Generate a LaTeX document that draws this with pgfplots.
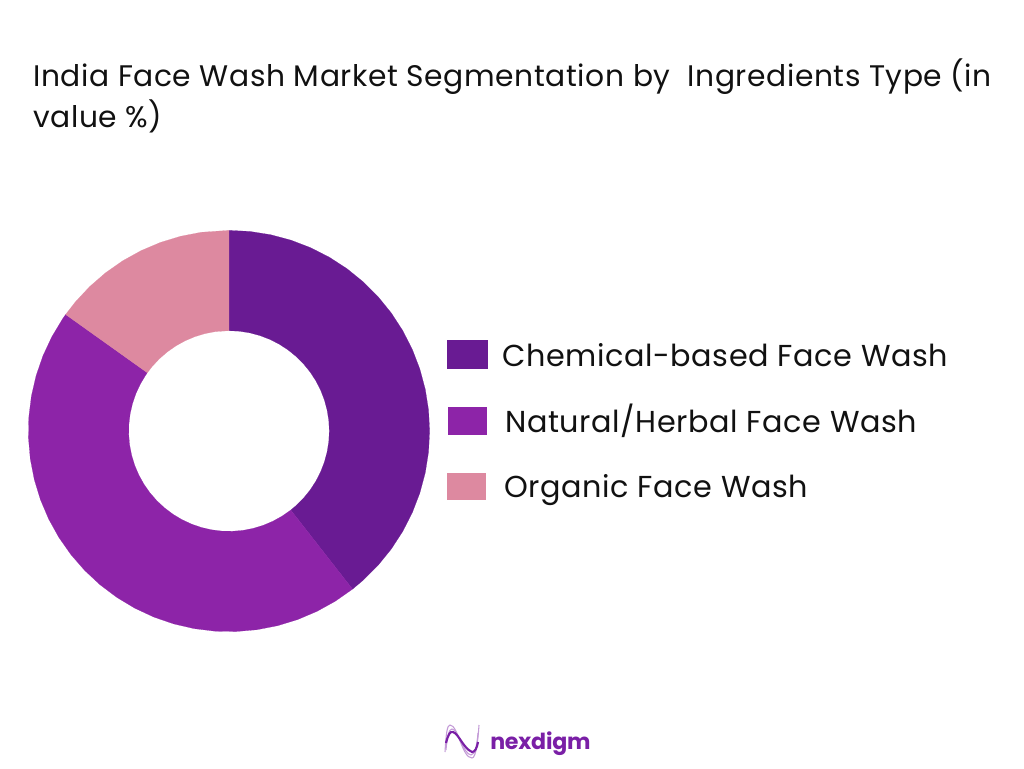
\documentclass[border=0pt]{standalone}
\usepackage{fontspec}
\usepackage{pgfplots}
\pgfplotsset{compat=1.18}
\usepgfplotslibrary{polar}
\setmainfont{Poppins}
\newfontfamily\titlef[LetterSpace=2.0]{Poppins}
\newfontfamily\legf[LetterSpace=2.0]{Poppins}
\newfontfamily\logof[LetterSpace=-1.0]{Poppins Bold}
\definecolor{sliceA}{HTML}{691B93}
\definecolor{sliceB}{HTML}{8D24A8}
\definecolor{sliceC}{HTML}{DD89A0}
\definecolor{ink}{HTML}{111111}
\definecolor{logop}{HTML}{7A1FA6}
\begin{document}
\begin{tikzpicture}[x=0.75pt,y=-0.75pt]
\useasboundingbox (0,0) rectangle (1024,768);
\fill[white] (0,0) rectangle (1024,768);
\begin{polaraxis}[
  at={(229*0.75pt,-431*0.75pt)}, anchor=center,
  scale only axis, width=301pt, height=301pt,
  xmin=0, xmax=360, ymin=0, ymax=200,
  hide axis, clip=false]
% chemical-based: about 39.5 % of the ring
\addplot[draw=sliceA, line width=0.1pt, fill=sliceA] coordinates {
(90,200)(84,200)(78,200)(72,200)(66,200)(60,200)(54,200)(48,200)(42,200)(36,200)(30,200)(24,200)(18,200)(12,200)(6,200)(0,200)(-6,200)(-12,200)(-18,200)(-24,200)(-30,200)(-36,200)(-42,200)(-48,200)(-52,200)
(-52,100)(-48,100)(-42,100)(-36,100)(-30,100)(-24,100)(-18,100)(-12,100)(-6,100)(0,100)(6,100)(12,100)(18,100)(24,100)(30,100)(36,100)(42,100)(48,100)(54,100)(60,100)(66,100)(72,100)(78,100)(84,100)(90,100)
} --cycle;
% natural/herbal: about 45.4 %
\addplot[draw=sliceB, line width=0.1pt, fill=sliceB] coordinates {
(-52,200)(-58,200)(-64,200)(-70,200)(-76,200)(-82,200)(-88,200)(-94,200)(-100,200)(-106,200)(-112,200)(-118,200)(-124,200)(-130,200)(-136,200)(-142,200)(-148,200)(-154,200)(-160,200)(-166,200)(-172,200)(-178,200)(-184,200)(-190,200)(-196,200)(-202,200)(-208,200)(-214,200)(-215.5,200)
(-215.5,100)(-214,100)(-208,100)(-202,100)(-196,100)(-190,100)(-184,100)(-178,100)(-172,100)(-166,100)(-160,100)(-154,100)(-148,100)(-142,100)(-136,100)(-130,100)(-124,100)(-118,100)(-112,100)(-106,100)(-100,100)(-94,100)(-88,100)(-82,100)(-76,100)(-70,100)(-64,100)(-58,100)(-52,100)
} --cycle;
% organic: about 15.1 %
\addplot[draw=sliceC, line width=0.1pt, fill=sliceC] coordinates {
(-215.5,200)(-220,200)(-226,200)(-232,200)(-238,200)(-244,200)(-250,200)(-256,200)(-262,200)(-270,200)
(-270,100)(-262,100)(-256,100)(-250,100)(-244,100)(-238,100)(-232,100)(-226,100)(-220,100)(-215.5,100)
} --cycle;
\end{polaraxis}
% title
\node[anchor=base west,inner sep=0pt,text=ink,font=\titlef\fontsize{22.3pt}{26pt}\selectfont] at (33,86) {India Face Wash Market Segmentation by \ Ingredients Type (in};
\node[anchor=base west,inner sep=0pt,text=ink,font=\titlef\fontsize{22.3pt}{26pt}\selectfont] at (33,127) {value \%)};
% legend
\fill[sliceA] (447,340) rectangle (488,369);
\fill[sliceB] (448,407) rectangle (487,435);
\fill[sliceC] (447,473) rectangle (486,500);
\node[anchor=base west,inner sep=0pt,text=ink,font=\legf\fontsize{22.7pt}{26pt}\selectfont] at (502,366) {Chemical-based Face Wash};
\node[anchor=base west,inner sep=0pt,text=ink,font=\legf\fontsize{22.7pt}{26pt}\selectfont] at (505,432) {Natural/Herbal Face Wash};
\node[anchor=base west,inner sep=0pt,text=ink,font=\legf\fontsize{22.7pt}{26pt}\selectfont] at (504,497) {Organic Face Wash};
% logo
\draw[logop!45,line width=0.8pt] (445,752) .. controls (446,735) and (447,725) .. (450,725) .. controls (458,725) and (462,758) .. (472,758) .. controls (476,758) and (478,740) .. (479,725);
\draw[logop!45,line width=0.8pt] (446,750) .. controls (447,737) and (449,729) .. (452,729) .. controls (458,729) and (463,754) .. (471,755) .. controls (475,755) and (477,745) .. (478,733);
\draw[logop,line width=1.6pt] (446,743) .. controls (448,735) and (450,731) .. (453,732) .. controls (459,734) and (463,748) .. (472,752) .. controls (475,752) and (477,748) .. (478,742);
\node[anchor=base west,inner sep=0pt,text=logop,font=\logof\fontsize{16.6pt}{20pt}\selectfont] at (490,749) {nexdigm};
\end{tikzpicture}
\end{document}
